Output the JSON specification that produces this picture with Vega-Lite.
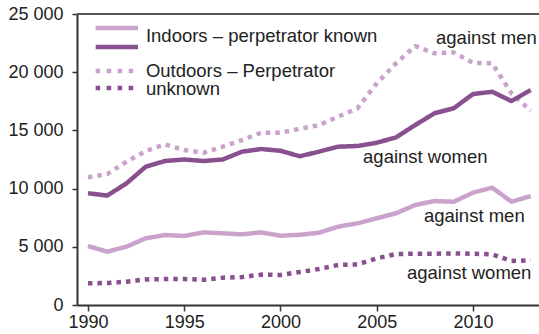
{
  "$schema": "https://vega.github.io/schema/vega-lite/v6.json",
  "autosize": {"type": "none"},
  "padding": {"left": 77, "top": 14, "right": 0, "bottom": 29},
  "width": 462,
  "height": 291,
  "background": "white",
  "config": {
    "view": {"stroke": null},
    "font": "Liberation Sans",
    "text": {"font": "Liberation Sans", "fontSize": 18.5, "color": "#222222"}
  },
  "datasets": {
    "crimes": [
    {"year":1990,"series":"Indoors men","value":5070},{"year":1991,"series":"Indoors men","value":4580},{"year":1992,"series":"Indoors men","value":5010},{"year":1993,"series":"Indoors men","value":5730},{"year":1994,"series":"Indoors men","value":6010},{"year":1995,"series":"Indoors men","value":5930},{"year":1996,"series":"Indoors men","value":6240},{"year":1997,"series":"Indoors men","value":6160},{"year":1998,"series":"Indoors men","value":6070},{"year":1999,"series":"Indoors men","value":6240},{"year":2000,"series":"Indoors men","value":5950},{"year":2001,"series":"Indoors men","value":6030},{"year":2002,"series":"Indoors men","value":6210},{"year":2003,"series":"Indoors men","value":6730},{"year":2004,"series":"Indoors men","value":7020},{"year":2005,"series":"Indoors men","value":7450},{"year":2006,"series":"Indoors men","value":7880},{"year":2007,"series":"Indoors men","value":8590},{"year":2008,"series":"Indoors men","value":8930},{"year":2009,"series":"Indoors men","value":8870},{"year":2010,"series":"Indoors men","value":9650},{"year":2011,"series":"Indoors men","value":10080},{"year":2012,"series":"Indoors men","value":8870},{"year":2013,"series":"Indoors men","value":9360},
    {"year":1990,"series":"Outdoors women","value":1860},{"year":1991,"series":"Outdoors women","value":1890},{"year":1992,"series":"Outdoors women","value":2000},{"year":1993,"series":"Outdoors women","value":2200},{"year":1994,"series":"Outdoors women","value":2230},{"year":1995,"series":"Outdoors women","value":2230},{"year":1996,"series":"Outdoors women","value":2170},{"year":1997,"series":"Outdoors women","value":2350},{"year":1998,"series":"Outdoors women","value":2400},{"year":1999,"series":"Outdoors women","value":2610},{"year":2000,"series":"Outdoors women","value":2580},{"year":2001,"series":"Outdoors women","value":2830},{"year":2002,"series":"Outdoors women","value":3090},{"year":2003,"series":"Outdoors women","value":3440},{"year":2004,"series":"Outdoors women","value":3490},{"year":2005,"series":"Outdoors women","value":4010},{"year":2006,"series":"Outdoors women","value":4380},{"year":2007,"series":"Outdoors women","value":4410},{"year":2008,"series":"Outdoors women","value":4410},{"year":2009,"series":"Outdoors women","value":4430},{"year":2010,"series":"Outdoors women","value":4410},{"year":2011,"series":"Outdoors women","value":4350},{"year":2012,"series":"Outdoors women","value":3780},{"year":2013,"series":"Outdoors women","value":3840},
    {"year":1990,"series":"Outdoors men","value":10970},{"year":1991,"series":"Outdoors men","value":11250},{"year":1992,"series":"Outdoors men","value":12310},{"year":1993,"series":"Outdoors men","value":13230},{"year":1994,"series":"Outdoors men","value":13800},{"year":1995,"series":"Outdoors men","value":13310},{"year":1996,"series":"Outdoors men","value":13080},{"year":1997,"series":"Outdoors men","value":13600},{"year":1998,"series":"Outdoors men","value":14170},{"year":1999,"series":"Outdoors men","value":14800},{"year":2000,"series":"Outdoors men","value":14800},{"year":2001,"series":"Outdoors men","value":15130},{"year":2002,"series":"Outdoors men","value":15460},{"year":2003,"series":"Outdoors men","value":16180},{"year":2004,"series":"Outdoors men","value":16900},{"year":2005,"series":"Outdoors men","value":19040},{"year":2006,"series":"Outdoors men","value":20760},{"year":2007,"series":"Outdoors men","value":22250},{"year":2008,"series":"Outdoors men","value":21620},{"year":2009,"series":"Outdoors men","value":21700},{"year":2010,"series":"Outdoors men","value":20810},{"year":2011,"series":"Outdoors men","value":20760},{"year":2012,"series":"Outdoors men","value":18180},{"year":2013,"series":"Outdoors men","value":16690},
    {"year":1990,"series":"Indoors women","value":9600},{"year":1991,"series":"Indoors women","value":9400},{"year":1992,"series":"Indoors women","value":10450},{"year":1993,"series":"Indoors women","value":11880},{"year":1994,"series":"Indoors women","value":12370},{"year":1995,"series":"Indoors women","value":12500},{"year":1996,"series":"Indoors women","value":12370},{"year":1997,"series":"Indoors women","value":12500},{"year":1998,"series":"Indoors women","value":13170},{"year":1999,"series":"Indoors women","value":13400},{"year":2000,"series":"Indoors women","value":13250},{"year":2001,"series":"Indoors women","value":12780},{"year":2002,"series":"Indoors women","value":13170},{"year":2003,"series":"Indoors women","value":13600},{"year":2004,"series":"Indoors women","value":13660},{"year":2005,"series":"Indoors women","value":13940},{"year":2006,"series":"Indoors women","value":14400},{"year":2007,"series":"Indoors women","value":15460},{"year":2008,"series":"Indoors women","value":16470},{"year":2009,"series":"Indoors women","value":16900},{"year":2010,"series":"Indoors women","value":18120},{"year":2011,"series":"Indoors women","value":18320},{"year":2012,"series":"Indoors women","value":17520},{"year":2013,"series":"Indoors women","value":18470}
    ],
    "one": [{}]
  },
  "data": {"name": "one"},
  "layer": [
    {
      "mark": {"type": "rule", "color": "#555555", "strokeWidth": 2},
      "encoding": {"y": {"datum": 25000, "type": "quantitative"}}
    },
    {
      "data": {"name": "crimes"},
      "mark": {"type": "line", "strokeWidth": 4.5, "strokeCap": "butt", "strokeJoin": "round"},
      "encoding": {
        "x": {"field": "year", "type": "quantitative",
          "scale": {"domain": [1989.43, 2013.43], "nice": false, "zero": false},
          "axis": {"values": [1990, 1995, 2000, 2005, 2010], "format": "d", "title": null, "grid": false,
            "labelFontSize": 18, "labelColor": "#222222", "labelFont": "Liberation Sans",
            "tickSize": 6, "tickWidth": 1.5, "tickColor": "#333333", "domainColor": "#333333", "domainWidth": 2,
            "labelPadding": 2, "labelFlush": false, "labelOverlap": false}},
        "y": {"field": "value", "type": "quantitative",
          "scale": {"domain": [0, 25000], "nice": false},
          "axis": {"values": [0, 5000, 10000, 15000, 20000, 25000], "title": null, "grid": false,
            "labelExpr": "replace(format(datum.value, ','), ',', ' ')",
            "labelFontSize": 18, "labelColor": "#222222", "labelFont": "Liberation Sans",
            "tickSize": 5, "tickWidth": 1.5, "tickColor": "#333333", "domainColor": "#333333", "domainWidth": 2,
            "labelPadding": 9, "labelFlush": false, "labelOverlap": false}},
        "color": {"field": "series", "type": "nominal",
          "scale": {"domain": ["Indoors men", "Indoors women", "Outdoors men", "Outdoors women"],
            "range": ["#c9a3cb", "#88508f", "#c9a3cb", "#88508f"]}, "legend": null},
        "strokeDash": {"field": "series", "type": "nominal",
          "scale": {"domain": ["Indoors men", "Indoors women", "Outdoors men", "Outdoors women"],
            "range": [[1, 0], [1, 0], [4.5, 5], [4.5, 5]]}, "legend": null},
        "order": {"field": "year", "type": "quantitative"}
      }
    },
    {
      "mark": {"type": "rule", "color": "#c9a3cb", "strokeWidth": 4.5},
      "encoding": {"x": {"datum": 1990.4}, "x2": {"datum": 1992.6}, "y": {"datum": 23797}}
    },
    {
      "mark": {"type": "rule", "color": "#88508f", "strokeWidth": 4.5},
      "encoding": {"x": {"datum": 1990.4}, "x2": {"datum": 1992.6}, "y": {"datum": 22165}}
    },
    {
      "mark": {"type": "rule", "color": "#c9a3cb", "strokeWidth": 4.5, "strokeDash": [4.5, 6.5], "strokeCap": "butt"},
      "encoding": {"x": {"datum": 1990.4}, "x2": {"datum": 1992.6}, "y": {"datum": 20103}}
    },
    {
      "mark": {"type": "rule", "color": "#88508f", "strokeWidth": 4.5, "strokeDash": [4.5, 6.5], "strokeCap": "butt"},
      "encoding": {"x": {"datum": 1990.4}, "x2": {"datum": 1992.6}, "y": {"datum": 18643}}
    },
    {
      "mark": {"type": "text", "text": "Indoors – perpetrator known", "align": "left", "baseline": "alphabetic"},
      "encoding": {"x": {"datum": 1993.01}, "y": {"datum": 22594}}
    },
    {
      "mark": {"type": "text", "text": "Outdoors – Perpetrator", "align": "left", "baseline": "alphabetic"},
      "encoding": {"x": {"datum": 1993.01}, "y": {"datum": 19587}}
    },
    {
      "mark": {"type": "text", "text": "unknown", "align": "left", "baseline": "alphabetic"},
      "encoding": {"x": {"datum": 1993.01}, "y": {"datum": 18041}}
    },
    {
      "mark": {"type": "text", "text": "against men", "align": "left", "baseline": "alphabetic"},
      "encoding": {"x": {"datum": 2008.08}, "y": {"datum": 22423}}
    },
    {
      "mark": {"type": "text", "text": "against women", "align": "left", "baseline": "alphabetic"},
      "encoding": {"x": {"datum": 2004.29}, "y": {"datum": 12199}}
    },
    {
      "mark": {"type": "text", "text": "against men", "align": "left", "baseline": "alphabetic"},
      "encoding": {"x": {"datum": 2007.45}, "y": {"datum": 7131}}
    },
    {
      "mark": {"type": "text", "text": "against women", "align": "left", "baseline": "alphabetic"},
      "encoding": {"x": {"datum": 2006.57}, "y": {"datum": 2234}}
    }
  ]
}
